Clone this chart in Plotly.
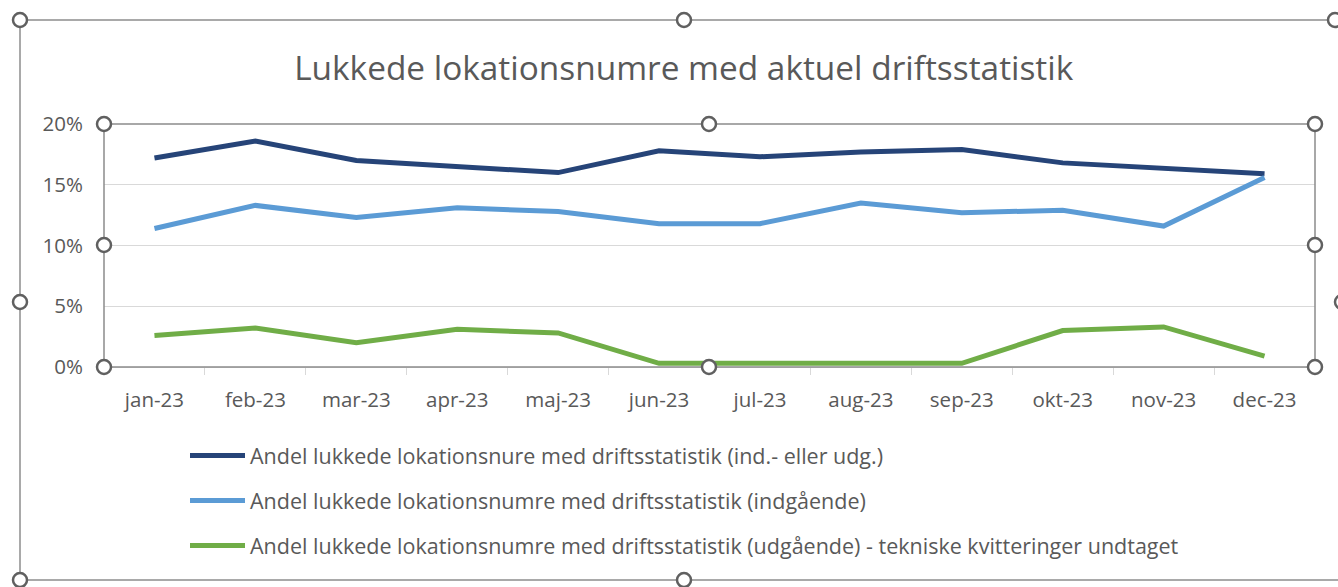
import plotly.graph_objects as go

months = ["jan-23", "feb-23", "mar-23", "apr-23", "maj-23", "jun-23",
          "jul-23", "aug-23", "sep-23", "okt-23", "nov-23", "dec-23"]
total = [17.2, 18.6, 17.0, 16.5, 16.0, 17.8, 17.3, 17.7, 17.9, 16.8, 16.3, 15.9]
incoming = [11.4, 13.3, 12.3, 13.1, 12.8, 11.8, 11.8, 13.5, 12.7, 12.9, 11.6, 15.6]
outgoing = [2.6, 3.2, 2.0, 3.1, 2.8, 0.3, 0.3, 0.3, 0.3, 3.0, 3.3, 0.9]

names = [
    "Andel lukkede lokationsnure med driftsstatistik (ind.- eller udg.)",
    "Andel lukkede lokationsnumre med driftsstatistik (indgående)",
    "Andel lukkede lokationsnumre med driftsstatistik (udgående) - tekniske kvitteringer undtaget",
]
colors = ["#264478", "#5B9BD5", "#70AD47"]
series = [total, incoming, outgoing]

FONT = "Open Sans"
TXT = "#595959"

fig = go.Figure()
for i, (nm, col, vals) in enumerate(zip(names, colors, series)):
    fig.add_trace(go.Scatter(x=months, y=vals, mode="lines", name=nm,
                             legendgroup=f"g{i}",
                             line=dict(color=col, width=5)))

W, H = 1338, 587
L, R, T, B = 104, 1315, 124, 367


def px(x):
    return (x - L) / (R - L)


def py(y):
    return (B - y) / (B - T)


shapes = []
line_col = "#8C8C8C"
# chart area border (selection frame)
shapes.append(dict(type="line", xref="paper", yref="paper", x0=px(20), x1=px(20), y0=py(20), y1=py(580),
                   line=dict(color=line_col, width=1.5)))
shapes.append(dict(type="line", xref="paper", yref="paper", x0=px(20), x1=px(1338), y0=py(20), y1=py(20),
                   line=dict(color=line_col, width=1.5)))
shapes.append(dict(type="line", xref="paper", yref="paper", x0=px(20), x1=px(1338), y0=py(580), y1=py(580),
                   line=dict(color=line_col, width=1.5)))
# plot area frame
shapes.append(dict(type="rect", xref="paper", yref="paper", x0=0, x1=1, y0=0, y1=1,
                   line=dict(color=line_col, width=1.5)))
handles = [(20, 20), (684, 20), (1335, 20), (20, 302), (20, 580), (684, 580),
           (104, 124), (709, 124), (1315, 124), (104, 245), (1315, 245),
           (104, 367), (709, 367), (1315, 367), (1342, 302)]
r = 7
for hx, hy in handles:
    shapes.append(dict(type="circle", xref="paper", yref="paper",
                       x0=px(hx - r), x1=px(hx + r), y0=py(hy + r), y1=py(hy - r),
                       fillcolor="white", line=dict(color="#606060", width=2.5)))

fig.update_layout(
    width=W, height=H,
    margin=dict(l=L, r=W - R, t=T, b=H - B),
    paper_bgcolor="white", plot_bgcolor="white",
    title=dict(text="Lukkede lokationsnumre med aktuel driftsstatistik",
               x=0.511, xanchor="center", y=1 - 68 / H, yanchor="middle",
               font=dict(family=FONT, size=33.4, color=TXT)),
    font=dict(family=FONT, color=TXT),
    showlegend=True,
    legend=dict(orientation="v", x=px(185), xanchor="left", y=py(435), yanchor="top",
                font=dict(family=FONT, size=21.5, color=TXT),
                tracegroupgap=14, itemwidth=55, bgcolor="rgba(0,0,0,0)"),
    xaxis=dict(type="category", range=[-0.5, 11.5], showgrid=False, showline=True,
               linecolor="#D9D9D9", linewidth=1,
               ticks="outside", tickson="boundaries", ticklen=7, tickcolor="#D9D9D9",
               ticklabelstandoff=14,
               tickfont=dict(family=FONT, size=20.5, color=TXT), fixedrange=True),
    yaxis=dict(range=[0, 20], dtick=5, ticksuffix="%", showgrid=True, gridcolor="#D9D9D9",
               gridwidth=1, zeroline=False, showline=False,
               ticklabelstandoff=20,
               tickfont=dict(family=FONT, size=20.5, color=TXT), fixedrange=True),
    shapes=shapes,
)

fig.write_html("out.html", config={"displayModeBar": False},
               post_script="document.body.style.margin='0';")
